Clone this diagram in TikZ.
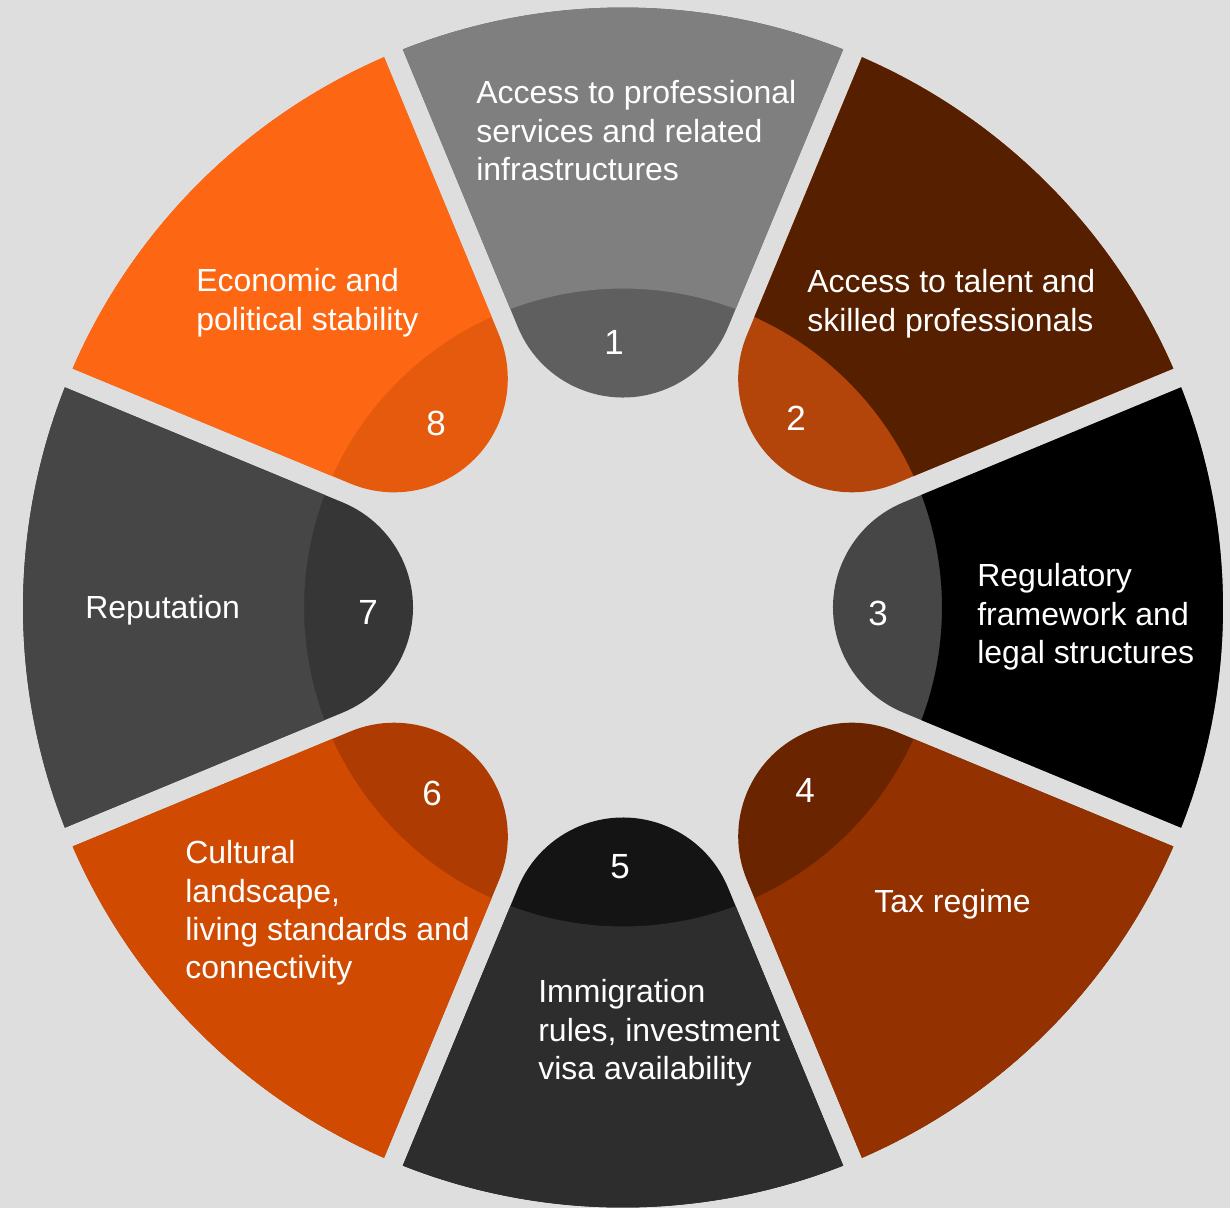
\documentclass[tikz,border=0pt]{standalone}
\usepackage{fontspec}
\setsansfont{Liberation Sans}
\usepackage{xcolor}
\usepackage{tikz}
\definecolor{paper}{RGB}{222,222,222}
\definecolor{greyband}{RGB}{127,127,127}
\definecolor{greybulb}{RGB}{95,95,95}
\definecolor{umber}{RGB}{86,31,0}
\definecolor{rust}{RGB}{179,69,10}
\definecolor{ink}{RGB}{0,0,0}
\definecolor{slate}{RGB}{70,70,70}
\definecolor{copper}{RGB}{147,50,0}
\definecolor{mahogany}{RGB}{107,36,0}
\definecolor{charcoal}{RGB}{45,45,45}
\definecolor{soot}{RGB}{20,20,20}
\definecolor{tangerine}{RGB}{208,74,2}
\definecolor{burnt}{RGB}{174,60,2}
\definecolor{graphite}{RGB}{54,54,54}
\definecolor{flame}{RGB}{253,103,19}
\definecolor{flamedark}{RGB}{229,90,12}
\tikzset{
  seglbl/.style={text=white, align=left, anchor=north west, inner sep=0pt,
    font=\sffamily\fontsize{18.2}{21.9}\selectfont},
  segnum/.style={text=white, inner sep=0pt, font=\sffamily\fontsize{19.9}{24}\selectfont}
}
% one ring segment, drawn pointing up and then turned: #1 turn, #2 bulb, #3 band
\newcommand{\ringsegment}[3]{%
  \begin{scope}[rotate=#1]
    \fill[#2] (110.67:319) -- (-105.04,280.19)
      arc[start angle=202.5, end angle=337.5, radius=113.7]
      -- (69.33:319) -- (68.47:600)
      arc[start angle=68.47, end angle=111.53, radius=600] -- cycle;
    \fill[#3] (110.67:319) -- (111.53:600)
      arc[start angle=111.53, end angle=68.47, radius=600]
      -- (69.33:319) arc[start angle=69.33, end angle=110.67, radius=319] -- cycle;
  \end{scope}}

\begin{document}
\begin{tikzpicture}[x=0.02cm, y=0.02cm, font=\sffamily]
    % canvas, 1 unit = 1 px of the layout, origin in the ring centre
    \fill[paper] (-623,-600.5) rectangle (607,607.5);
    \useasboundingbox (-623,-600.5) rectangle (607,607.5);

    \ringsegment{0}{greybulb}{greyband}
    \ringsegment{-45}{rust}{umber}
    \ringsegment{-90}{slate}{ink}
    \ringsegment{-135}{mahogany}{copper}
    \ringsegment{-180}{soot}{charcoal}
    \ringsegment{-225}{burnt}{tangerine}
    \ringsegment{-270}{graphite}{slate}
    \ringsegment{-315}{flamedark}{flame}

    % numbers in the bulbs
    \node[segnum] (n1) at (-9,265.5)    {1};
    \node[segnum] (n2) at (173,189.5)   {2};
    \node[segnum] (n3) at (255,-5.5)    {3};
    \node[segnum] (n4) at (182,-182.5)  {4};
    \node[segnum] (n5) at (-3,-259.5)   {5};
    \node[segnum] (n6) at (-191,-185.5) {6};
    \node[segnum] (n7) at (-255,-4.5)   {7};
    \node[segnum] (n8) at (-187,184.5)  {8};

    % labels in the bands
    \node[seglbl] (t1) at (-147,527.5) {Access to professional\\services and related\\infrastructures};
    \node[seglbl] (t2) at (184,338.5)  {Access to talent and\\skilled professionals};
    \node[seglbl] (t3) at (354,44.5)   {Regulatory\\framework and\\legal structures};
    \node[seglbl] (t4) at (251,-281.5) {Tax regime};
    \node[seglbl] (t5) at (-85,-371.5) {Immigration\\rules, investment\\visa availability};
    \node[seglbl] (t6) at (-438,-232.5) {Cultural\\landscape,\\living standards and\\connectivity};
    \node[seglbl] (t7) at (-538,12.5)  {Reputation};
    \node[seglbl] (t8) at (-427,339.5) {Economic and\\political stability};
  \end{tikzpicture}
\end{document}
